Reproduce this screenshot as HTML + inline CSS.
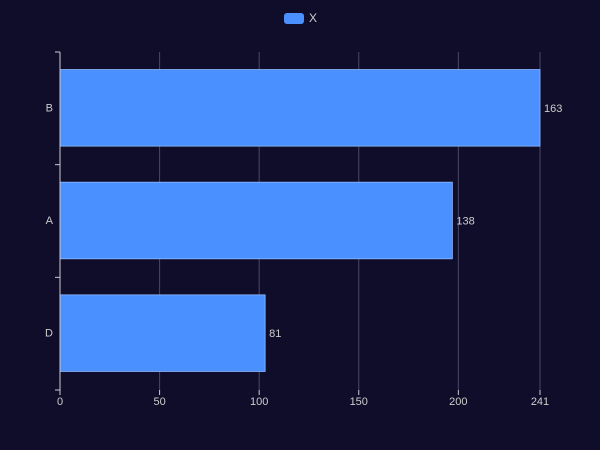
<!DOCTYPE html>
<html><head><meta charset="utf-8"><style>
html,body{margin:0;padding:0;background:#100d2a;}
svg{display:block;font-family:"Liberation Sans",sans-serif;}
</style></head><body>
<svg id="chart" width="600" height="450">
<rect x="0" y="0" width="600" height="450" fill="#100d2a"/>
<g>
<rect x="284" y="13" width="20" height="11" rx="3" fill="#4a91ff"/>
<text x="309" y="22" fill="#ccc" font-size="12">X</text>
</g>
<g id="grid"></g><g id="bars"></g><g id="axes"></g>
</svg>
<script>
const categories = ["B","A","D"];
const values = [241,197,103];
const labels = [163,138,81];
const tickValues = [0,50,100,150,200,241];
const ns="http://www.w3.org/2000/svg";
const L=60,R=540,T=52,B=390,maxV=241;
const x=v=>L+(v/maxV)*(R-L);
const band=(B-T)/categories.length;
function mk(tag,attrs,parent){const e=document.createElementNS(ns,tag);for(const k in attrs)e.setAttribute(k,attrs[k]);parent.appendChild(e);return e;}
const grid=document.getElementById('grid'),bars=document.getElementById('bars'),axes=document.getElementById('axes');
tickValues.forEach(t=>{
  if(t>0){const g=mk('line',{x1:x(t),x2:x(t),y1:T,y2:B,stroke:'#4a4864','stroke-width':1},grid);
  
  }
  const tl=mk('line',{x1:x(t),x2:x(t),y1:B,y2:B+5,stroke:'#ccc'},axes);
  
  
  const tx=mk('text',{x:x(t),y:B+15,fill:'#ccc','font-size':11,'text-anchor':'middle'},axes);
  tx.textContent=t;
  
  
});
categories.forEach((c,i)=>{
  const y0=T+i*band,bh=band*0.68,by=y0+(band-bh)/2-0.5;
  const r=mk('rect',{x:L,y:by,width:x(values[i])-L,height:bh,fill:'#4a91ff',stroke:'#8fb8ff','stroke-width':0.8},bars);
  
  
  const vl=mk('text',{x:x(values[i])+4,y:by+bh/2+4,fill:'#ccc','font-size':11},bars);
  vl.textContent=labels[i];
  
  
  const cl=mk('text',{x:L-7,y:y0+band/2+3,fill:'#ccc','font-size':11,'text-anchor':'end'},axes);
  cl.textContent=c;
  
  
});
for(let i=0;i<=categories.length;i++){
  const yy=T+i*band;
  const t=mk('line',{x1:L-5,x2:L,y1:yy,y2:yy,stroke:'#ccc'},axes);
  
  
}
const ya=mk('line',{x1:L,x2:L,y1:T,y2:B,stroke:'#ccc'},axes);


</script>
</body></html>
